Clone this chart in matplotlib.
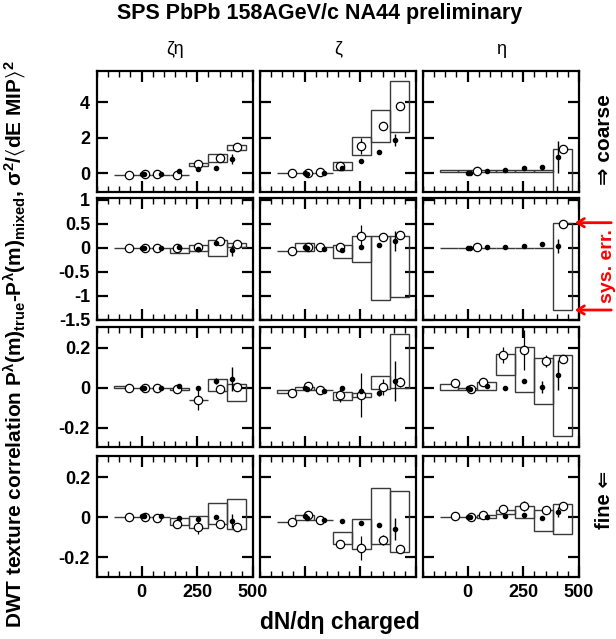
import matplotlib
matplotlib.use("Agg")
import matplotlib.pyplot as plt
from matplotlib.patches import Rectangle, FancyArrowPatch
from matplotlib.ticker import MultipleLocator

plt.rcParams['font.family'] = ['Liberation Sans', 'DejaVu Sans']
plt.rcParams['mathtext.fontset'] = 'custom'
plt.rcParams['mathtext.rm'] = 'Liberation Sans:bold'
plt.rcParams['mathtext.it'] = 'Liberation Sans:bold'
plt.rcParams['mathtext.bf'] = 'Liberation Sans:bold'
plt.rcParams['mathtext.fallback'] = 'stixsans'

col_titles = ["ζη", "ζ", "η"]

# bin edges of the systematic error boxes (dN/deta)
box_edges = [-125, -42, 42, 127, 212, 297, 382, 467]
open_x = [-57, 15, 67, 157, 254, 352, 429]
open_x_short = [44, 429]
dot_x = [0, 12, 85, 167, 251, 336, 405]

# open circles [row][col]
open_y = [
    [[-0.13, -0.06, -0.04, -0.09, 0.5, 0.86, 1.44],
     [0.0, -0.02, 0.04, 0.39, 1.55, 2.67, 3.75],
     [0.13, 1.36]],
    [[-0.01, 0.0, 0.0, -0.01, 0.02, 0.14, 0.09],
     [-0.06, 0.01, 0.01, 0.02, 0.25, 0.23, 0.26],
     [0.02, 0.5]],
    [[0.0, 0.0, 0.0, -0.005, -0.058, -0.003, 0.003],
     [-0.025, 0.008, -0.008, -0.037, -0.037, 0.005, 0.028],
     [0.025, -0.003, 0.03, 0.167, 0.192, 0.133, 0.147]],
    [[0.0, 0.0, -0.003, -0.037, -0.05, -0.033, -0.05],
     [-0.023, 0.008, -0.017, -0.133, -0.157, -0.117, -0.158],
     [0.003, 0.0, 0.008, 0.04, 0.053, 0.037, 0.053]],
]
open_err = [
    [[0, 0, 0, 0, 0, 0, 0],
     [0, 0, 0, 0, 0.45, 0, 0],
     [0, 0]],
    [[0, 0, 0, 0, 0, 0, 0],
     [0, 0, 0, 0, 0.23, 0, 0],
     [0, 0]],
    [[0, 0, 0, 0, 0.05, 0.02, 0],
     [0, 0, 0, 0.033, 0.11, 0.04, 0.025],
     [0, 0, 0, 0.04, 0.1, 0.03, 0]],
    [[0, 0, 0, 0, 0.035, 0, 0],
     [0, 0, 0, 0, 0.06, 0.025, 0],
     [0, 0, 0, 0, 0.025, 0, 0]],
]

# filled dots [row][col]
dot_y = [
    [[-0.04, -0.04, -0.04, 0.11, 0.24, 0.26, 0.8],
     [0.0, -0.04, 0.0, 0.26, 0.69, 1.2, 1.87],
     [0.0, 0.0, 0.11, 0.19, 0.26, 0.32, 0.9]],
    [[0.0, 0.0, -0.007, 0.02, -0.02, 0.1, -0.05],
     [0.01, -0.01, -0.03, -0.05, 0.02, 0.055, 0.145],
     [0.0, 0.0, 0.03, 0.02, 0.04, 0.08, 0.04]],
    [[0.0, 0.0, 0.0, 0.012, 0.0, 0.033, 0.047],
     [0.0, -0.005, -0.017, 0.0, -0.013, -0.025, 0.033],
     [0.0, -0.003, 0.008, 0.0, 0.037, 0.005, 0.063]],
    [[0.003, 0.003, 0.003, -0.003, -0.01, 0.0, -0.02],
     [0.003, -0.003, -0.017, -0.022, -0.03, -0.042, -0.062],
     [0.0, 0.0, 0.0, 0.005, 0.012, -0.003, 0.025]],
]
dot_err = [
    [[0, 0, 0, 0, 0, 0, 0.28],
     [0, 0, 0, 0, 0, 0, 0.35],
     [0, 0, 0, 0, 0, 0.15, 0.9]],
    [[0, 0, 0, 0, 0, 0, 0.12],
     [0, 0, 0, 0, 0, 0, 0.2],
     [0, 0, 0, 0, 0, 0, 0.15]],
    [[0, 0, 0, 0, 0, 0.015, 0.06],
     [0, 0, 0, 0, 0, 0.015, 0.1],
     [0, 0, 0, 0, 0, 0.03, 0.075]],
    [[0, 0, 0, 0, 0.01, 0.01, 0.035],
     [0, 0, 0, 0, 0.01, 0.01, 0.055],
     [0, 0, 0, 0, 0, 0.01, 0.025]],
]

# systematic error boxes [row][col]
box_lo = [
    [[-0.12, -0.12, -0.12, -0.12, 0.39, 0.6, 1.29],
     [0.0, 0.0, 0.0, 0.15, 1.03, 1.76, 2.3],
     [0.07, 0.07, 0.07, 0.07, 0.07, 0.07, -1.2]],
    [[0.0, 0.0, 0.0, -0.1, -0.07, -0.16, 0.02],
     [-0.06, -0.06, 0.01, -0.2, -0.3, -1.08, -1.03],
     [0.0, 0.0, 0.0, 0.0, 0.0, 0.0, -1.29]],
    [[0.0, 0.0, 0.0, -0.012, -0.058, -0.017, -0.067],
     [-0.025, -0.008, -0.008, -0.058, -0.045, -0.003, 0.0],
     [-0.008, -0.008, -0.008, 0.067, -0.022, -0.08, -0.242]],
    [[0.0, 0.0, 0.0, -0.038, -0.053, -0.037, -0.062],
     [-0.027, -0.017, -0.013, -0.133, -0.158, -0.133, -0.175],
     [0.0, 0.0, -0.003, 0.013, -0.003, -0.07, -0.087]],
]
box_hi = [
    [[-0.12, -0.12, -0.12, -0.12, 0.54, 1.1, 1.59],
     [0.0, 0.0, 0.0, 0.6, 2.04, 3.57, 5.2],
     [0.18, 0.18, 0.18, 0.18, 0.18, 0.18, 1.36]],
    [[0.0, 0.0, 0.0, 0.0, 0.055, 0.16, 0.11],
     [-0.06, 0.1, 0.01, 0.07, 0.25, 0.25, 0.25],
     [0.0, 0.0, 0.0, 0.0, 0.0, 0.0, 0.52]],
    [[0.012, 0.0, 0.0, 0.0, -0.058, 0.045, 0.022],
     [-0.012, 0.005, -0.008, -0.02, -0.025, 0.062, 0.27],
     [0.022, 0.0, 0.028, 0.17, 0.203, 0.15, 0.167]],
    [[0.0, 0.0, 0.0, -0.003, 0.005, 0.072, 0.088],
     [-0.027, 0.008, -0.013, -0.075, -0.012, 0.147, 0.128],
     [0.0, 0.0, 0.008, 0.037, 0.055, 0.033, 0.063]],
]

ylims = [(-1.07, 5.75), (-1.5, 1.04), (-0.295, 0.305), (-0.3, 0.305)]
yticks = [[0, 2, 4], [-1.5, -1, -0.5, 0, 0.5, 1], [-0.2, 0, 0.2], [-0.2, 0, 0.2]]
ytick_labels = [["0", "2", "4"], ["-1.5", "-1", "-0.5", "0", "0.5", "1"],
                ["-0.2", "0", "0.2"], ["-0.2", "0", "0.2"]]
xtick_labels = ["0", "250", "500"]

W, H = 616, 639
fig = plt.figure(figsize=(W / 100, H / 100), dpi=100)

col_left = [97, 260, 423]
col_w = 156
row_top = [71, 198, 327, 456]
row_bot = [192, 320, 447, 577]

for r in range(4):
    for c in range(3):
        ax = fig.add_axes([col_left[c] / W, 1 - row_bot[r] / H,
                           col_w / W, (row_bot[r] - row_top[r]) / H])
        # boxes
        for i in range(7):
            x0 = box_edges[i]
            lo, hi = box_lo[r][c][i], box_hi[r][c][i]
            ax.add_patch(Rectangle((x0, lo), box_edges[i + 1] - x0, hi - lo,
                                   fill=False, edgecolor='#3a3a3a', lw=1.0, zorder=2))
        # open circles
        ox = open_x_short if (c == 2 and r < 2) else open_x
        ax.errorbar(ox, open_y[r][c], yerr=open_err[r][c], fmt='o', ms=6,
                    mfc='white', mec='black', mew=0.9, ecolor='black',
                    elinewidth=0.9, capsize=0, zorder=3)
        # filled dots
        ax.errorbar(dot_x, dot_y[r][c], yerr=dot_err[r][c], fmt='o', ms=3.0,
                    mfc='black', mec='black', ecolor='black',
                    elinewidth=1.0, capsize=0, zorder=4)

        ax.set_xlim(-200, 500)
        ax.set_ylim(*ylims[r])
        ax.set_xticks([0, 250, 500])
        ax.xaxis.set_minor_locator(MultipleLocator(50))
        ax.set_yticks(yticks[r])
        ax.tick_params(which='both', direction='in', top=True, right=True)
        ax.tick_params(which='major', length=8, width=1.6, labelsize=13, pad=5)
        ax.tick_params(which='minor', length=4, width=1.0)
        for s in ax.spines.values():
            s.set_linewidth(1.6)
        if c == 0:
            ax.set_yticklabels(ytick_labels[r], fontweight='bold')
        else:
            ax.set_yticklabels([])
        if r == 3 and c != 1:
            ax.set_xticklabels(xtick_labels, fontweight='bold')
        else:
            ax.set_xticklabels([])
        if r == 0:
            ax.text(0.5, 1.18, col_titles[c], transform=ax.transAxes,
                    ha='center', va='center', fontsize=13)

fig.text(320 / W, 1 - 13 / H, "SPS PbPb 158AGeV/c NA44 preliminary",
         ha='center', va='center', fontsize=15.5, fontweight='bold')
fig.text(340 / W, 1 - 622 / H, "dN/dη charged", ha='center', va='center',
         fontsize=16.5, fontweight='bold')
fig.text(15 / W, 1 - 344 / H,
         r"DWT texture correlation P$^{λ}$(m)$_{true}$-P$^{λ}$(m)$_{mixed}$, σ$^{2}$/$\langle$dE MIP$\rangle^{2}$",
         rotation=90, ha='center', va='center', fontsize=15, fontweight='bold')
fig.text(605 / W, 1 - 140 / H, "⇒ coarse", rotation=90, ha='center', va='center',
         fontsize=15, fontweight='bold')
fig.text(605 / W, 1 - 500 / H, "fine ⇐", rotation=90, ha='center', va='center',
         fontsize=14.5, fontweight='bold')
fig.text(608 / W, 1 - 266 / H, "sys. err.", rotation=90, ha='center', va='center',
         fontsize=14, fontweight='bold', color='red')
for yy in [222.7, 310]:
    fig.add_artist(FancyArrowPatch(
        (614 / W, 1 - yy / H), (572 / W, 1 - yy / H), transform=fig.transFigure,
        arrowstyle='->,head_length=5,head_width=3', color='red', lw=2))

fig.savefig("out.png", dpi=100)
